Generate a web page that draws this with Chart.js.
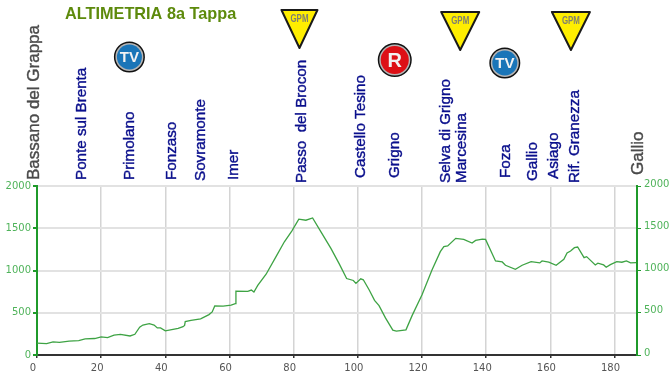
<!DOCTYPE html>
<html>
<head>
<meta charset="utf-8">
<title>Altimetria 8a Tappa</title>
<script src="https://cdn.jsdelivr.net/npm/chart.js@4"></script>
<style>
  html, body { margin: 0; padding: 0; background: #fff; }
  #wrap { width: 672px; height: 377px; }
</style>
</head>
<body>
<div id="wrap"><canvas id="profileChart"></canvas></div>
<script>
const chartTitle = 'ALTIMETRIA 8a Tappa';

// profile: km and metres
const routeKm = [0, 3, 5, 7, 10, 13, 15, 18, 20, 22, 24, 26, 29, 30.5, 32, 33, 35, 36.5, 37.5, 38.5, 40, 42, 44, 45.5, 46, 46.2, 48, 51, 53.6, 54.6, 55.4, 58, 60.5, 61.8, 62,
  65.7, 66.8, 67.6, 68.8, 71.4, 74.5, 77.1, 79.4, 81.6, 83.8, 85.9, 88.5, 91.6, 94.2, 96.5, 98.6, 99.4, 100.9, 101.7, 103.5, 105.2, 106.6, 108.6, 110.9, 112, 115, 116.9, 120, 123.1, 125.7,
  126.8, 128, 130.5, 133, 135.6, 136.7, 138.8, 139.8, 142.9, 145, 146, 149.1, 151.2, 154, 156.7, 157.4, 159.5, 161.8, 164.2, 165.2, 166.3, 167.5, 168.5, 170.5, 171.3, 174, 174.8, 176.6, 177.4, 178.7, 180.7, 182.3, 183.7, 185, 186.7];
const elevation = [140, 135, 155, 150, 165, 170, 190, 195, 215, 205, 235, 245, 225, 245, 330, 355, 370, 355, 320, 320, 285, 300, 315, 335, 350, 395, 410, 427, 478, 510, 580, 578, 590, 607, 756,
  752, 768, 745, 823, 956, 1164, 1340, 1466, 1607, 1595, 1622, 1458, 1262, 1078, 905, 882, 847, 901, 890, 772, 647, 584, 439, 294, 282, 298, 466, 713, 1007, 1223,
  1282, 1290, 1380, 1368, 1325, 1356, 1372, 1368, 1113, 1101, 1062, 1015, 1062, 1105, 1090, 1113, 1098, 1062, 1133, 1207, 1231, 1270, 1278, 1152, 1164, 1066, 1086, 1066, 1039, 1070, 1105, 1098, 1113, 1090, 1094];

const placeNames = ['Bassano del Grappa', 'Ponte sul Brenta', 'Primolano', 'Fonzaso', 'Sovramonte', 'Imer', 'Passo  del Brocon', 'Castello Tesino', 'Grigno', 'Selva di Grigno', 'Marcesina', 'Foza', 'Gallio', 'Asiago', 'Rif. Granezza', 'Gallio'];
const placeKm = [-1.2, 13.4, 28.4, 41.7, 50.5, 61, 82, 100.6, 110.9, 126.8, 131.8, 145.5, 154.2, 160.7, 167.3, 187];

const badgeTypes = ['TV', 'GPM', 'R', 'GPM', 'TV', 'GPM'];
const badgeKm = [28.8, 81.8, 111.5, 131.9, 145.8, 166.4];

const xTicks = [0, 20, 40, 60, 80, 100, 120, 140, 160, 180];
const yTicks = [0, 500, 1000, 1500, 2000];
const NAVY = '#0a0f8c';
const GREY = '#4a4a4a';
const AXIS_GREEN = '#1f9a2a';
const LABEL_GREEN = '#4fb35a';

const labelBottoms = [180, 180, 180, 180, 181, 180, 183, 178, 178, 183, 183, 178, 181, 179, 183, 175];
const badgeCentres = [57, 10, 60, 12, 63, 12];

function drawGpm(ctx, cx, top, half) {
  ctx.beginPath();
  ctx.moveTo(cx - half, top);
  ctx.lineTo(cx + half, top);
  ctx.lineTo(cx, top + 38);
  ctx.closePath();
  ctx.fillStyle = '#ffee00';
  ctx.fill();
  ctx.lineWidth = 2;
  ctx.strokeStyle = '#1a1a1a';
  ctx.lineJoin = 'round';
  ctx.stroke();
  ctx.fillStyle = '#7f7f70';
  ctx.font = 'bold 10px "Liberation Sans"';
  ctx.textAlign = 'center';
  ctx.textBaseline = 'middle';
  ctx.fillText('GPM', cx, top + 9, 18);
}

function drawRound(ctx, cx, cy, r, fill, text, fontSize) {
  ctx.beginPath();
  ctx.arc(cx, cy, r, 0, Math.PI * 2);
  ctx.fillStyle = '#111';
  ctx.fill();
  ctx.beginPath();
  ctx.arc(cx, cy, r - 1.5, 0, Math.PI * 2);
  ctx.fillStyle = '#b5b5b5';
  ctx.fill();
  ctx.beginPath();
  ctx.arc(cx, cy, r - 3, 0, Math.PI * 2);
  ctx.fillStyle = fill;
  ctx.fill();
  ctx.fillStyle = '#f2f2f2';
  ctx.font = 'bold ' + fontSize + 'px "Liberation Sans"';
  ctx.textAlign = 'center';
  ctx.textBaseline = 'middle';
  ctx.fillText(text, cx, cy + 1);
}

const routeLabels = {
  id: 'routeLabels',
  afterDraw(chart) {
    const ctx = chart.ctx;
    const x = chart.scales.x;
    ctx.save();

    ctx.fillStyle = '#5d8a0c';
    ctx.font = 'bold 16.3px "Liberation Sans"';
    ctx.textAlign = 'left';
    ctx.textBaseline = 'middle';
    ctx.fillText(chartTitle, 65, 14.5);

    placeNames.forEach((name, i) => {
      const edge = i === 0 || i === placeNames.length - 1;
      ctx.save();
      ctx.translate(x.getPixelForValue(placeKm[i]) + 1.5, labelBottoms[i]);
      ctx.rotate(-Math.PI / 2);
      ctx.fillStyle = edge ? GREY : NAVY;
      ctx.strokeStyle = ctx.fillStyle;
      ctx.lineWidth = 0.4;
      ctx.font = edge ? '17px "Liberation Sans"' : '15.2px "Liberation Sans"';
      ctx.textAlign = 'left';
      ctx.textBaseline = 'middle';
      ctx.fillText(name, 0, 0);
      ctx.strokeText(name, 0, 0);
      ctx.restore();
    });

    badgeTypes.forEach((type, i) => {
      const cx = x.getPixelForValue(badgeKm[i]);
      if (type === 'GPM') drawGpm(ctx, cx, badgeCentres[i], i === 1 ? 18 : 19);
      else if (type === 'TV') drawRound(ctx, cx, badgeCentres[i], 15.5, '#1a75b8', 'TV', 15);
      else drawRound(ctx, cx, badgeCentres[i], 17, '#dd1016', 'R', 20);
    });
    ctx.restore();
  }
};

new Chart(document.getElementById('profileChart'), {
  type: 'line',
  data: {
    datasets: [{
      data: routeKm.map((km, i) => ({ x: km, y: elevation[i] })),
      borderColor: '#3ea344',
      borderWidth: 1.3,
      pointRadius: 0,
      tension: 0,
      yAxisID: 'y'
    }]
  },
  options: {
    responsive: true,
    maintainAspectRatio: false,
    animation: false,
    layout: { padding: { top: 186 } },
    plugins: { legend: { display: false }, tooltip: { enabled: false } },
    scales: {
      x: {
        type: 'linear',
        min: 0,
        max: 187,
        afterFit(axis) { axis.height = 22; },
        afterBuildTicks(axis) { axis.ticks = xTicks.map(v => ({ value: v })); },
        border: { color: '#333', width: 2 },
        grid: { color: '#d4d4d4', lineWidth: 1.5, tickColor: '#333', tickLength: 3 },
        ticks: {
          autoSkip: false,
          maxRotation: 0,
          color: '#555',
          padding: 4,
          labelOffset: -4,
          callback: v => String(v),
          font: { family: 'DejaVu Sans', size: 10 }
        }
      },
      y: {
        min: 0,
        max: 2000,
        afterFit(axis) { axis.width = 37; },
        afterBuildTicks(axis) { axis.ticks = yTicks.map(v => ({ value: v })); },
        border: { color: AXIS_GREEN, width: 2 },
        grid: { color: '#e2e2e2', lineWidth: 2, tickColor: AXIS_GREEN, tickLength: 4 },
        ticks: { color: LABEL_GREEN, padding: 2, callback: v => String(v), font: { family: 'DejaVu Sans', size: 10 } }
      },
      y1: {
        position: 'right',
        min: 0,
        max: 2000,
        afterFit(axis) { axis.width = 35; },
        afterBuildTicks(axis) { axis.ticks = yTicks.map(v => ({ value: v })); },
        border: { color: AXIS_GREEN, width: 2 },
        grid: { drawOnChartArea: false, tickColor: AXIS_GREEN, tickLength: 4 },
        ticks: { color: LABEL_GREEN, padding: 3, labelOffset: -2, callback: v => String(v), font: { family: 'DejaVu Sans', size: 10 } }
      }
    }
  },
  plugins: [routeLabels]
});
</script>
</body>
</html>
